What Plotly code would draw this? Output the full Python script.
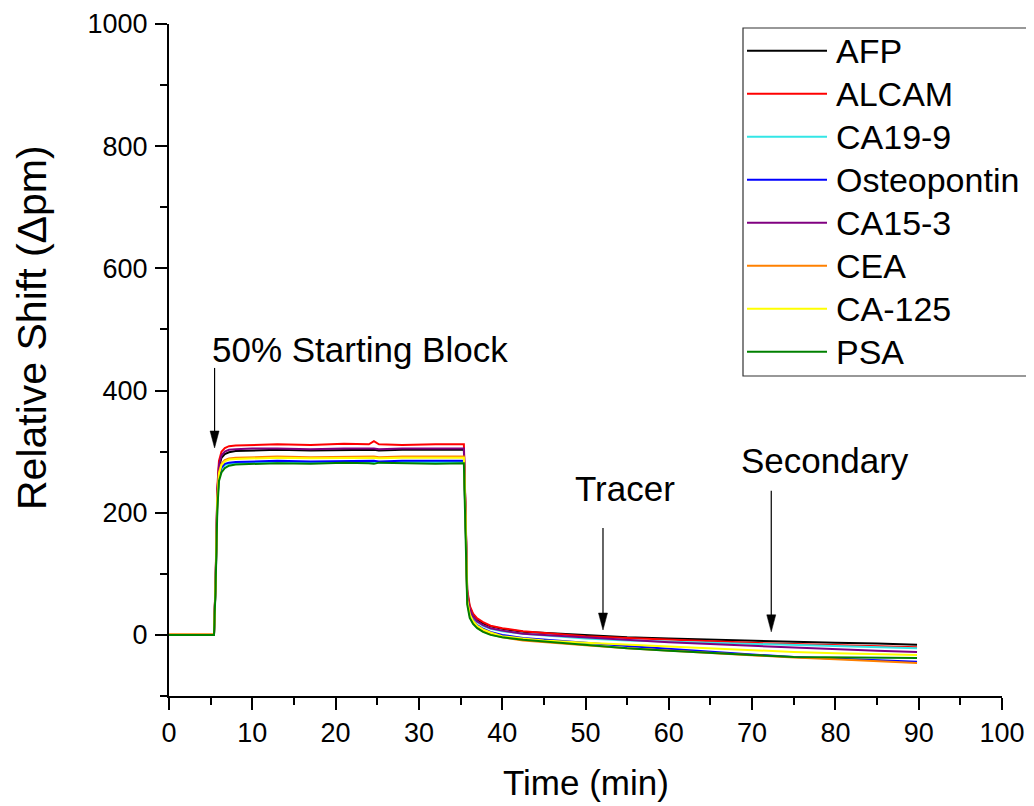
import plotly.graph_objects as go

# ---------------- data ----------------
time_min = [0, 2, 4, 5.4, 5.6, 5.8, 6.0, 6.3, 6.7, 7.2, 8, 10, 13, 17, 21, 24, 24.6, 25.2, 28, 32,
            35.4, 35.6, 35.8, 36.1, 36.5, 37, 37.7, 38.6, 40, 42.5, 45, 50, 55, 60, 65, 70, 75, 80, 85, 89.8]

names = ["AFP", "ALCAM", "CA19-9", "Osteopontin", "CA15-3", "CEA", "CA-125", "PSA"]
colors = ["#000000", "#FF0000", "#33E6E6", "#0000FF", "#800080", "#FF8000", "#FFFF00", "#008000"]

afp = [0, 0, 0, 0, 90, 230, 275, 290, 296, 299, 301, 302, 303, 302, 303, 304, 303, 302, 303, 303,
       303, 200, 70, 45, 33, 25, 19, 14, 10, 5, 3, -1, -4, -6, -8, -10, -12, -13, -14, -16]
alcam = [0, 0, 0, 0, 95, 240, 285, 300, 306, 309, 310, 311, 312, 311, 313, 312, 317, 312, 311, 312,
         312, 205, 75, 48, 35, 27, 21, 15, 11, 6, 3, -2, -5, -8, -11, -13, -15, -17, -18, -20]
ca199 = [0, 0, 0, 0, 85, 215, 258, 272, 278, 280, 281, 282, 283, 282, 283, 284, 283, 282, 283, 283,
         283, 190, 62, 40, 29, 21, 15, 10, 6, 2, -1, -6, -9, -11, -13, -15, -17, -19, -20, -22]
osteopontin = [0, 0, 0, 0, 85, 218, 260, 274, 280, 282, 283, 284, 285, 284, 285, 286, 285, 284, 285, 285,
               285, 190, 58, 35, 24, 16, 10, 5, 0, -5, -8, -13, -18, -23, -28, -32, -36, -39, -41, -44]
ca153 = [0, 0, 0, 0, 90, 232, 278, 294, 300, 303, 304, 305, 305, 304, 305, 306, 305, 304, 305, 305,
         305, 200, 66, 42, 30, 22, 16, 11, 7, 2, 0, -5, -9, -12, -15, -18, -21, -24, -26, -28]
cea = [1, 1, 1, 1, 87, 222, 266, 280, 286, 289, 290, 291, 292, 291, 292, 293, 292, 291, 292, 292,
       292, 195, 55, 32, 20, 12, 6, 1, -4, -9, -12, -17, -22, -26, -30, -34, -37, -40, -43, -46]
ca125 = [0, 0, 0, 0, 86, 220, 264, 278, 284, 287, 288, 289, 290, 289, 290, 291, 290, 289, 290, 290,
         290, 193, 57, 34, 23, 15, 9, 4, -2, -6, -9, -13, -16, -20, -23, -26, -28, -30, -32, -33]
psa = [0, 0, 0, 0, 80, 205, 252, 266, 273, 277, 279, 280, 281, 280, 282, 281, 280, 282, 281, 280,
       281, 185, 50, 28, 18, 11, 5, 0, -4, -8, -11, -17, -22, -26, -30, -33, -36, -37, -38, -38]

series = [afp, alcam, ca199, osteopontin, ca153, cea, ca125, psa]

x_ticks = [0, 10, 20, 30, 40, 50, 60, 70, 80, 90, 100]
y_ticks = [0, 200, 400, 600, 800, 1000]

# annotation texts (data coords for arrows)
arrow_notes = [
    # text, text_x, text_y, anchor, arrow_x, tail_y, tip_y
    ("50% Starting Block", 4.96, 468, "left", 5.47, 437, 306),
    ("Tracer", 54.7, 239, "center", 52.1, 175, 8),
    ("Secondary", 78.8, 285, "center", 72.3, 236, 5),
]

# ---------------- layout geometry ----------------
# page body has an 8px margin, so the figure is drawn 8px smaller and shifted
OFF = 8
REF_L, REF_R, REF_T, REF_B = 169, 1002, 24, 696   # plot area in reference pixels
W, H = 1034 - OFF, 806 - OFF
L, T = REF_L - OFF, REF_T - OFF
R, B = W - (REF_R - OFF), H - (REF_B - OFF)
PW, PH = REF_R - REF_L, REF_B - REF_T
X_RANGE = [0, 100]
Y_RANGE = [-100, 1000]
FONT = "Liberation Sans, Arial, sans-serif"


def px_x(p):
    return (p - REF_L) / PW


def px_y(p):
    return (REF_B - p) / PH


fig = go.Figure()
for name, col, ys in zip(names, colors, series):
    fig.add_trace(go.Scatter(x=time_min, y=ys, mode="lines", name=name,
                             line=dict(color=col, width=2), showlegend=False))

shapes = []
annotations = []

# arrows (line + triangular head)
xs_per_px = (X_RANGE[1] - X_RANGE[0]) / PW
ys_per_px = (Y_RANGE[1] - Y_RANGE[0]) / PH
head_half_w = 4.5 * xs_per_px
head_len = 17 * ys_per_px
for text, tx, ty, anc, ax_, tail, tip in arrow_notes:
    annotations.append(dict(x=tx, y=ty, xref="x", yref="y", text=text, showarrow=False,
                            xanchor=anc, yanchor="middle",
                            font=dict(family=FONT, size=35, color="black")))
    shapes.append(dict(type="line", xref="x", yref="y", x0=ax_, x1=ax_, y0=tail, y1=tip + head_len * 0.5,
                       line=dict(color="black", width=1.2)))
    shapes.append(dict(type="path", xref="x", yref="y",
                       path=f"M {ax_ - head_half_w},{tip + head_len} L {ax_},{tip} L {ax_ + head_half_w},{tip + head_len} Z",
                       fillcolor="black", line=dict(color="black", width=0.5)))

# manual legend
LEG_X0, LEG_X1, LEG_Y0, LEG_Y1 = 743, 1028, 28, 376
shapes.append(dict(type="rect", xref="paper", yref="paper",
                   x0=px_x(LEG_X0), x1=px_x(LEG_X1), y0=px_y(LEG_Y1), y1=px_y(LEG_Y0),
                   line=dict(color="#333333", width=1.2), fillcolor="white", layer="below"))
for i, (name, col) in enumerate(zip(names, colors)):
    yc = 50.7 + 43.0 * i
    shapes.append(dict(type="line", xref="paper", yref="paper",
                       x0=px_x(747), x1=px_x(827), y0=px_y(yc), y1=px_y(yc),
                       line=dict(color=col, width=2)))
    annotations.append(dict(x=px_x(834), y=px_y(yc), xref="paper", yref="paper", text=name,
                            showarrow=False, xanchor="left", yanchor="middle",
                            font=dict(family=FONT, size=34, color="black")))

# axis titles
annotations.append(dict(x=px_x(32), y=px_y(328), xref="paper", yref="paper",
                        text="Relative Shift (\u0394pm)", textangle=-90, showarrow=False,
                        xanchor="center", yanchor="middle",
                        font=dict(family=FONT, size=41, color="black")))
annotations.append(dict(x=px_x(586), y=px_y(782), xref="paper", yref="paper",
                        text="Time (min)", showarrow=False, xanchor="center", yanchor="middle",
                        font=dict(family=FONT, size=35, color="black")))

axis_common = dict(showline=True, linecolor="black", linewidth=2, ticks="outside",
                   ticklen=12, tickwidth=2, tickcolor="black", showgrid=False, zeroline=False,
                   tickfont=dict(family=FONT, size=27, color="black"), mirror=False)

fig.update_layout(
    width=W, height=H,
    margin=dict(l=L, r=R, t=T, b=B, autoexpand=False),
    paper_bgcolor="white", plot_bgcolor="white",
    showlegend=False,
    xaxis=dict(range=X_RANGE, tickvals=x_ticks, ticktext=[str(v) for v in x_ticks],
               minor=dict(dtick=5, tick0=0, ticks="outside", ticklen=7, tickwidth=2, tickcolor="black"),
               **axis_common),
    yaxis=dict(range=Y_RANGE, tickvals=y_ticks, ticktext=[str(v) for v in y_ticks],
               minor=dict(dtick=100, tick0=0, ticks="outside", ticklen=7, tickwidth=2, tickcolor="black"),
               ticklabelstandoff=2,
               **axis_common),
    shapes=shapes,
    annotations=annotations,
)

fig.write_html("out.html")
